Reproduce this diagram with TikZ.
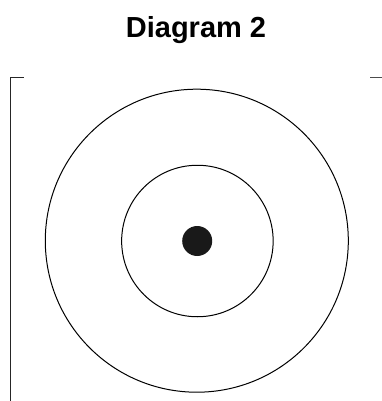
\documentclass[tikz,border=0pt]{standalone}
\usepackage{fontspec}
\setmainfont{Liberation Sans}
\usepackage{tikz}
\usetikzlibrary{calc, positioning}

\tikzset{
    ring/.style={circle, draw, line width=1pt, inner sep=0pt},
    blob/.style={circle, fill=black!90, inner sep=0pt, minimum size=30pt}
}

\begin{document}
\begin{tikzpicture}[x=1pt, y=-1pt]

    \useasboundingbox (0,0) rectangle (382,401);
    % Tiêu đề
    \node (title) at (196,30) {\fontsize{29}{34}\selectfont\bfseries Diagram 2};
    % Khung
    \draw[line width=1.2pt, black!85] (23.5,77.5) -- (10.3,77.5) -- (10.3,401);
    \draw[line width=1.2pt, black!70] (370,77.7) -- (382,77.7);
    % Các đường tròn
    \node[ring, minimum size=303pt] (outer) at (196.8,240.7) {};
    \node[ring, minimum size=151.5pt] (inner) at (197.4,241) {};
    \node[blob] (dot) at (197.2,241) {};

\end{tikzpicture}
\end{document}
